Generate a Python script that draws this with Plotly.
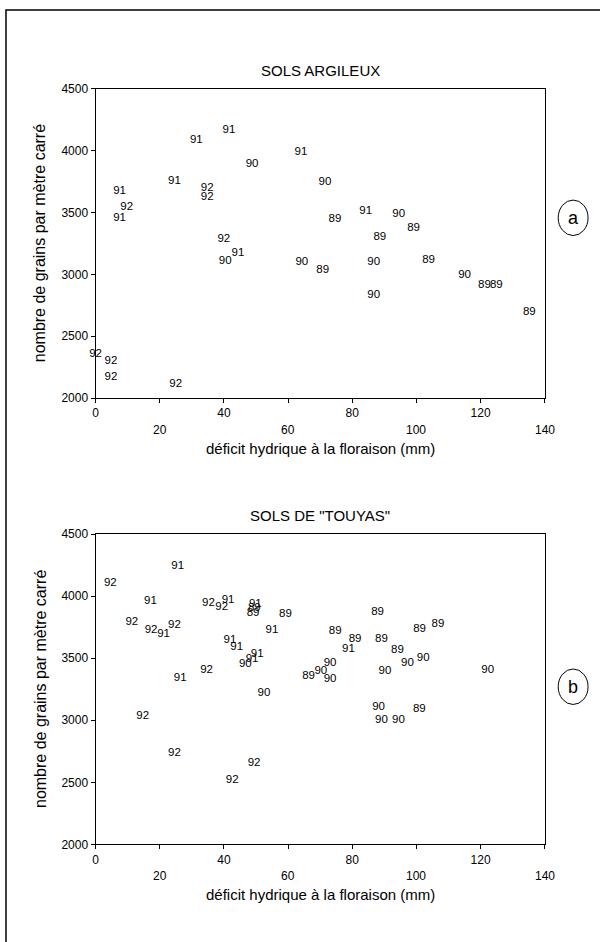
import plotly.graph_objects as go

# ---- data: panel (a) SOLS ARGILEUX ----
years_a = ["92", "92", "92", "92", "91", "92", "91", "91", "91", "91", "92", "92", "90", "91", "90",
           "92", "90", "91", "90", "89", "89", "91", "90", "89", "89", "90", "89", "90", "90", "89",
           "89", "89"]
deficit_a = [0, 4.8, 4.8, 25, 7.5, 9.7, 7.5, 24.6, 31.4, 41.6, 34.8, 34.8, 48.8, 64, 71.5,
             40, 40.4, 44.4, 64.3, 70.8, 74.6, 84.2, 94.5, 99.1, 88.6, 86.7, 103.8, 86.7, 115, 121.2,
             124.9, 135.2]
grains_a = [2358, 2295, 2167, 2111, 3672, 3544, 3457, 3751, 4086, 4165, 3695, 3624, 3894, 3990, 3743,
            3284, 3106, 3170, 3098, 3035, 3449, 3512, 3488, 3377, 3297, 3098, 3114, 2836, 2995, 2915,
            2915, 2693]

# ---- data: panel (b) SOLS DE "TOUYAS" ----
years_b = ["92", "91", "91", "92", "92", "91", "92", "92", "92", "91", "91", "89", "89", "89", "91",
           "91", "91", "91", "91", "90", "92", "91", "90", "89", "90", "90", "90", "89", "89", "89",
           "91", "89", "89", "89", "89", "90", "90", "90", "90", "90", "89", "90", "90", "92", "92",
           "92", "92"]
deficit_b = [4.6, 25.6, 17.1, 11.3, 17.3, 21.2, 24.6, 35.2, 39.3, 41.3, 49.8, 49.5, 49.1, 59.2, 55,
             41.9, 44, 50.4, 48.8, 46.7, 34.6, 26.4, 52.5, 66.4, 70.2, 73.1, 73.1, 74.7, 87.9, 80.9,
             78.8, 89.1, 94.1, 101, 106.7, 97.2, 102.1, 90.2, 122.2, 88.2, 100.9, 89.1, 94.4, 14.7, 24.6,
             49.4, 42.6]
grains_b = [4104, 4239, 3961, 3787, 3723, 3691, 3763, 3945, 3914, 3969, 3937, 3906, 3866, 3858, 3723,
            3644, 3588, 3532, 3493, 3453, 3405, 3342, 3215, 3358, 3397, 3461, 3334, 3715, 3874, 3652,
            3572, 3652, 3564, 3731, 3771, 3461, 3501, 3397, 3405, 3104, 3088, 3000, 3000, 3032, 2738,
            2651, 2516]

x_ticks_main = [0, 20, 40, 60, 80, 100, 120, 140]
x_ticktext_main = ["0", "", "40", "", "80", "", "120", ""]
x_ticks_low = [20, 60, 100, 140]
x_ticktext_low = ["20", "60", "100", "140"]
y_ticks = [2000, 2500, 3000, 3500, 4000, 4500]

titles = ["SOLS ARGILEUX", 'SOLS DE "TOUYAS"']
x_title = "déficit hydrique à la floraison (mm)"
y_title = "nombre de grains par mètre carré"
panel_letters = ["a", "b"]

FONT = "Liberation Sans, Arial, sans-serif"
W, H = 600, 942

fig = go.Figure()

fig.add_trace(go.Scatter(x=deficit_a, y=grains_a, text=years_a, mode="text",
                         textposition="middle center", textfont=dict(size=11.5, color="black", family=FONT),
                         xaxis="x", yaxis="y", cliponaxis=False, showlegend=False))
fig.add_trace(go.Scatter(x=deficit_b, y=grains_b, text=years_b, mode="text",
                         textposition="middle center", textfont=dict(size=11.5, color="black", family=FONT),
                         xaxis="x2", yaxis="y2", cliponaxis=False, showlegend=False))

xdom = [93 / W, 544.5 / W]
ydom_a = [1 - 397 / H, 1 - 83 / H]
ydom_b = [1 - 850 / H, 1 - 535 / H]

common_x = dict(range=[0, 140], showgrid=False, zeroline=False, showline=True, linecolor="black",
                linewidth=1, mirror=True, ticks="outside", ticklen=4, tickcolor="black",
                tickfont=dict(size=12, color="black", family=FONT), domain=xdom,
                tickvals=x_ticks_main, ticktext=x_ticktext_main)
common_y = dict(range=[2000, 4500], showgrid=False, zeroline=False, showline=True, linecolor="black",
                linewidth=1, mirror=True, ticks="outside", ticklen=4, tickcolor="black",
                tickfont=dict(size=12, color="black", family=FONT), tickvals=y_ticks)

fig.update_layout(
    width=W, height=H, margin=dict(l=0, r=0, t=0, b=0),
    paper_bgcolor="white", plot_bgcolor="white",
    xaxis=dict(**common_x, anchor="y"),
    yaxis=dict(**common_y, domain=ydom_a, anchor="x"),
    xaxis2=dict(**common_x, anchor="y2"),
    yaxis2=dict(**common_y, domain=ydom_b, anchor="x2"),
)

annots = []
cx = (xdom[0] + xdom[1]) / 2
for i, (t, yd) in enumerate(zip(titles, [ydom_a, ydom_b])):
    xr = "x" if i == 0 else "x2"
    for v, lab in zip(x_ticks_low, x_ticktext_low):
        annots.append(dict(text=lab, x=v, y=yd[0] - 32 / H, xref=xr, yref="paper", showarrow=False,
                           xanchor="center", yanchor="middle", font=dict(size=12, color="black", family=FONT)))
    annots.append(dict(text=t, x=cx, y=yd[1] + 19 / H, xref="paper", yref="paper", showarrow=False,
                       xanchor="center", yanchor="middle", font=dict(size=15, color="black", family=FONT)))
    annots.append(dict(text=x_title, x=cx, y=yd[0] - 51 / H, xref="paper", yref="paper", showarrow=False,
                       xanchor="center", yanchor="middle", font=dict(size=15, color="black", family=FONT)))
    annots.append(dict(text=y_title, x=37 / W, y=(yd[0] + yd[1]) / 2, xref="paper", yref="paper",
                       showarrow=False, textangle=-90, xanchor="center", yanchor="middle",
                       font=dict(size=16, color="black", family=FONT)))
    cy = 1 - (214 if i == 0 else 690) / H
    annots.append(dict(text=panel_letters[i], x=573 / W, y=cy, xref="paper", yref="paper", showarrow=False,
                       xanchor="center", yanchor="middle", font=dict(size=18, color="black", family=FONT)))
fig.update_layout(annotations=annots)

shapes = [dict(type="rect", xref="paper", yref="paper", x0=3 / W, x1=1.02, y0=-0.02, y1=1 - 3 / H,
               line=dict(color="black", width=1.5))]
for cyp in [214, 690]:
    shapes.append(dict(type="circle", xref="paper", yref="paper", x0=558 / W, x1=588 / W,
                       y0=1 - (cyp + 18) / H, y1=1 - (cyp - 18) / H, line=dict(color="black", width=1)))
fig.update_layout(shapes=shapes)

fig.write_html("out.html")
